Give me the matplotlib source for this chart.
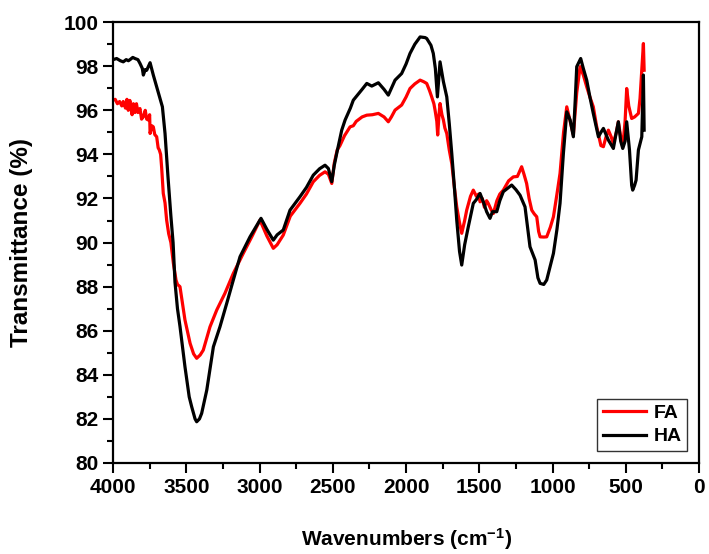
import numpy as np
import matplotlib
matplotlib.use('Agg')
import matplotlib.pyplot as plt
from matplotlib.ticker import MultipleLocator

plt.rcParams['font.family'] = 'Liberation Sans'
plt.rcParams['font.weight'] = 'bold'
plt.rcParams['mathtext.fontset'] = 'custom'
plt.rcParams['mathtext.rm'] = 'Liberation Sans:bold'
plt.rcParams['mathtext.bf'] = 'Liberation Sans:bold'
plt.rcParams['mathtext.default'] = 'bf'

# HA spectrum (black)
ha_wn = [4000, 3975, 3950, 3930, 3910, 3895, 3884, 3865, 3850, 3830, 3816, 3800, 3793, 3780, 3770,
         3747, 3725, 3702, 3679, 3663, 3645, 3625, 3605, 3590, 3577, 3560, 3543, 3509, 3480, 3463,
         3440, 3429, 3410, 3395, 3360, 3315, 3270, 3224, 3179, 3133, 3065, 2990, 2950, 2906, 2880,
         2838, 2792, 2724, 2680, 2633, 2590, 2553, 2530, 2507, 2490, 2473, 2439, 2416, 2380, 2360,
         2300, 2268, 2234, 2189, 2150, 2121, 2075, 2030, 2000, 1973, 1940, 1904, 1870, 1859, 1830,
         1814, 1800, 1786, 1768, 1745, 1722, 1705, 1688, 1670, 1654, 1635, 1620, 1600, 1575, 1541,
         1520, 1495, 1470, 1450, 1427, 1410, 1381, 1360, 1336, 1300, 1279, 1250, 1222, 1188, 1154,
         1119, 1100, 1085, 1060, 1040, 994, 970, 949, 926, 903, 880, 858, 845, 835, 808,
         790, 767, 745, 722, 687, 670, 653, 635, 619, 585, 565, 551, 535, 521, 505,
         494, 475, 460, 453, 440, 430, 414, 391, 380, 375]
ha_t = [98.3, 98.35, 98.25, 98.2, 98.3, 98.25, 98.3, 98.4, 98.35, 98.3, 98.13, 97.9, 97.6, 97.85, 97.82,
        98.16, 97.6, 97.07, 96.54, 96.16, 94.95, 93.0, 91.2, 90.0, 88.2, 87.0, 86.2, 84.37, 83.0, 82.55,
        82.0, 81.87, 82.0, 82.25, 83.31, 85.27, 86.18, 87.24, 88.3, 89.36, 90.26, 91.1, 90.6, 90.11, 90.35,
        90.57, 91.47, 92.08, 92.5, 93.06, 93.35, 93.51, 93.36, 92.76, 93.5, 94.05, 95.1, 95.56, 96.1, 96.46,
        96.95, 97.22, 97.1, 97.25, 96.95, 96.69, 97.37, 97.67, 98.1, 98.58, 99.0, 99.33, 99.3, 99.26, 98.95,
        98.58, 97.9, 96.61, 98.2, 97.3, 96.61, 95.4, 94.05, 92.5, 91.02, 89.6, 88.98, 89.9, 90.72, 91.78,
        91.95, 92.23, 91.8, 91.4, 91.1, 91.4, 91.4, 91.9, 92.31, 92.5, 92.61, 92.4, 92.15, 91.62, 89.81,
        89.21, 88.4, 88.15, 88.1, 88.3, 89.51, 90.6, 91.78, 94.05, 95.93, 95.56, 94.8, 96.5, 97.98, 98.35,
        97.9, 97.37, 96.6, 95.86, 94.8, 95.0, 95.18, 94.9, 94.65, 94.27, 95.0, 95.48, 94.6, 94.27, 94.6,
        95.48, 94.2, 92.6, 92.38, 92.6, 92.83, 94.2, 94.8, 97.6, 95.1]

# FA spectrum (red)
fa_wn = [4000, 3985, 3970, 3955, 3940, 3930, 3915, 3905, 3896, 3885, 3870, 3861, 3850, 3840, 3830,
         3816, 3805, 3793, 3780, 3770, 3759, 3750, 3747, 3735, 3725, 3715, 3702, 3692, 3684, 3675,
         3668, 3657, 3645, 3634, 3620, 3605, 3588, 3570, 3560, 3543, 3525, 3509, 3474, 3450, 3429,
         3405, 3384, 3338, 3292, 3236, 3179, 3111, 3050, 2997, 2950, 2906, 2880, 2838, 2790, 2724,
         2680, 2633, 2590, 2553, 2530, 2507, 2490, 2470, 2451, 2420, 2382, 2360, 2340, 2300, 2268,
         2230, 2189, 2150, 2121, 2100, 2075, 2030, 2000, 1973, 1940, 1904, 1880, 1859, 1840, 1825,
         1810, 1802, 1790, 1784, 1775, 1768, 1755, 1745, 1735, 1722, 1705, 1688, 1670, 1654, 1635,
         1620, 1600, 1586, 1560, 1541, 1520, 1505, 1495, 1480, 1465, 1450, 1439, 1420, 1404, 1380,
         1360, 1336, 1300, 1268, 1240, 1211, 1195, 1177, 1160, 1142, 1125, 1108, 1095, 1085, 1060,
         1040, 1015, 994, 970, 949, 925, 903, 880, 858, 835, 812, 790, 767, 745, 722,
         700, 670, 653, 635, 619, 600, 585, 565, 551, 535, 521, 505, 494, 480, 460,
         440, 414, 403, 380, 375]
fa_t = [96.46, 96.5, 96.3, 96.4, 96.2, 96.4, 96.1, 96.5, 96.0, 96.45, 95.8, 96.3, 95.9, 96.3, 95.9,
        96.08, 95.6, 95.71, 96.0, 95.6, 95.56, 95.8, 94.95, 95.3, 95.25, 94.9, 94.8, 94.3, 94.2, 94.0,
        93.4, 92.23, 91.8, 91.02, 90.4, 90.0, 89.06, 88.3, 88.1, 88.0, 87.2, 86.49, 85.43, 84.95, 84.75,
        84.9, 85.12, 86.18, 86.94, 87.7, 88.6, 89.51, 90.3, 91.02, 90.3, 89.74, 89.9, 90.34, 91.2, 91.78,
        92.2, 92.76, 93.05, 93.21, 93.1, 92.68, 93.6, 94.2, 94.4, 94.85, 95.25, 95.3, 95.5, 95.7, 95.78,
        95.8, 95.86, 95.7, 95.48, 95.7, 96.01, 96.24, 96.6, 96.99, 97.2, 97.37, 97.3, 97.22, 96.9, 96.61,
        96.3, 96.01, 95.5, 94.88, 95.8, 96.31, 95.8, 95.56, 95.2, 94.95, 94.2, 93.59, 92.5, 91.62, 90.9,
        90.42, 91.0, 91.47, 92.1, 92.38, 92.1, 92.2, 91.85, 92.0, 91.6, 91.9, 91.78, 91.5, 91.32, 91.9,
        92.2, 92.38, 92.8, 92.98, 93.0, 93.44, 93.1, 92.68, 92.0, 91.47, 91.3, 91.17, 90.5, 90.26, 90.25,
        90.26, 90.7, 91.17, 92.2, 93.14, 95.0, 96.16, 95.5, 94.88, 96.8, 97.98, 97.6, 97.07, 96.6, 96.16,
        95.3, 94.4, 94.35, 94.8, 95.1, 94.8, 94.5, 95.0, 95.48, 94.8, 94.35, 95.5, 96.99, 96.2, 95.63,
        95.7, 95.86, 96.54, 99.03, 97.82]

fig = plt.figure(figsize=(7.09, 5.54), dpi=100)
ax = fig.add_axes([0.1594, 0.1643, 0.8266, 0.7957])

ax.plot(fa_wn, fa_t, color='red', lw=2.3, label='FA')
ax.plot(ha_wn, ha_t, color='black', lw=2.3, label='HA')

ax.set_xlim(4000, 0)
ax.set_ylim(80, 100)
ax.xaxis.set_major_locator(MultipleLocator(500))
ax.xaxis.set_minor_locator(MultipleLocator(250))
ax.yaxis.set_major_locator(MultipleLocator(2))
ax.yaxis.set_minor_locator(MultipleLocator(1))
ax.tick_params(which='major', direction='out', length=7, width=1.5, labelsize=15)
ax.tick_params(which='minor', direction='out', length=4, width=1.5)
for sp in ax.spines.values():
    sp.set_linewidth(1.6)

ax.set_xlabel('Wavenumbers (cm$^{-1}$)', fontsize=15, fontweight='bold', labelpad=21)
ax.set_ylabel('Transmittance (%)', fontsize=17.5, fontweight='bold', labelpad=22)

leg = ax.legend(loc='lower right', fontsize=14, frameon=True, fancybox=False,
                edgecolor='black', handlelength=2.2, borderaxespad=0.6,
                borderpad=0.3, labelspacing=0.3, handletextpad=0.4)
leg.get_frame().set_linewidth(1.0)

fig.savefig('out.png', dpi=100)
